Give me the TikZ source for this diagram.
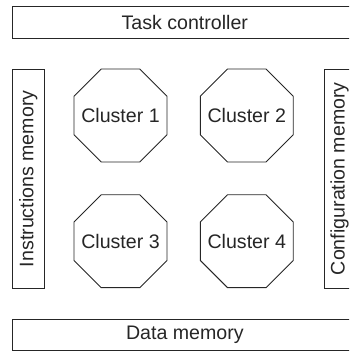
\documentclass[tikz,border=0pt]{standalone}
\usepackage{fontspec}
\setmainfont{Liberation Sans}
\usetikzlibrary{shapes.geometric}
\begin{document}
\begin{tikzpicture}[x=1pt,y=-1pt,
  box/.style={draw=black!85, line width=0.9pt, inner sep=0pt, rectangle, text=black!85},
  clus/.style={draw=black!85, line width=0.9pt, regular polygon, regular polygon sides=8, minimum size=100.6pt, inner sep=0pt},
  lbl/.style={font=\fontsize{19.6}{21}\selectfont, text=black!85},
  clbl/.style={label={[lbl]center:#1}}]
\useasboundingbox (0,0) rectangle (349,352);
\clip (0,0) rectangle (349,352);
\node[box, lbl, minimum width=344.3pt, minimum height=31.6pt] (tc) at (184.85,22.5) {Task controller};
\node[box, lbl, minimum width=344.3pt, minimum height=31.4pt] (dm) at (184.85,335) {Data memory};
\node[box, lbl, rotate=90, minimum width=219pt, minimum height=31.3pt] (im) at (28.35,178.8) {Instructions memory};
\node[box, lbl, rotate=90, minimum width=219.3pt, minimum height=31.3pt] (cm) at (339.65,178.65) {Configuration memory};
\node[clus, clbl={Cluster 1}] (c1) at (120.5,115.5) {};
\node[clus, clbl={Cluster 2}] (c2) at (246.8,115.5) {};
\node[clus, clbl={Cluster 3}] (c3) at (120.5,241.2) {};
\node[clus, clbl={Cluster 4}] (c4) at (246.8,241.2) {};
\end{tikzpicture}
\end{document}
